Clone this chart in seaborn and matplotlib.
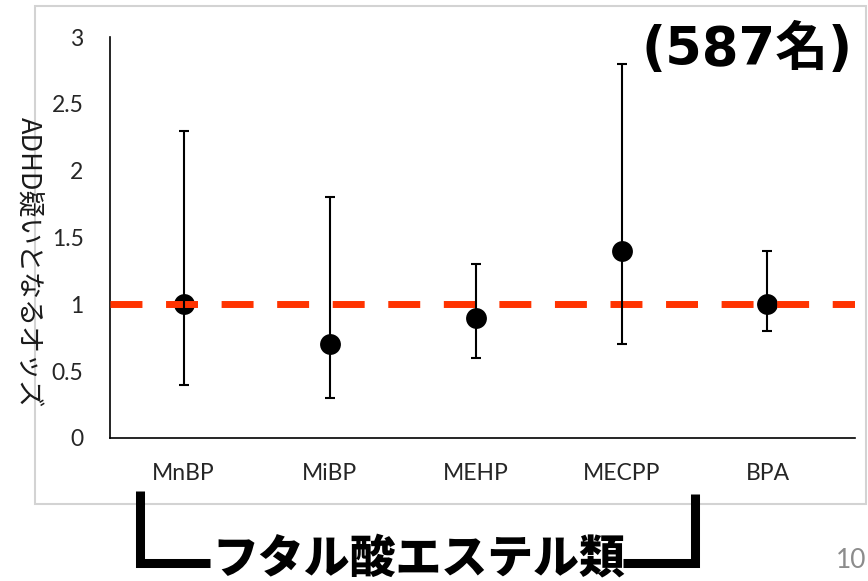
import matplotlib
matplotlib.use("Agg")
import matplotlib.pyplot as plt
from matplotlib.lines import Line2D
from matplotlib.patches import Rectangle
import numpy as np
import pandas as pd
import seaborn as sns

# Odds ratios with 95% confidence limits for each urinary metabolite
metabolites = ["MnBP", "MiBP", "MEHP", "MECPP", "BPA"]
odds_ratio = [1.0, 0.7, 0.9, 1.4, 1.0]
ci_low = [0.4, 0.3, 0.6, 0.7, 0.8]
ci_high = [2.3, 1.8, 1.3, 2.8, 1.4]
y_ticks = [0, 0.5, 1, 1.5, 2, 2.5, 3]
y_tick_labels = ["0", "0.5", "1", "1.5", "2", "2.5", "3"]
reference_or = 1.0

df = pd.DataFrame({"metabolite": metabolites, "or": odds_ratio,
                   "low": ci_low, "high": ci_high})

sns.set_theme(style="white")
plt.rcParams["font.family"] = ["Lato", "Noto Sans CJK JP", "DejaVu Sans"]

W, H = 868, 581
fig = plt.figure(figsize=(W / 100, H / 100), dpi=100)
fig.patch.set_facecolor("white")


def fx(px):
    return px / W


def fy(py):
    return 1 - py / H


ax = fig.add_axes([fx(110), fy(438), fx(855) - fx(110), fy(37) - fy(438)])
ax.set_facecolor("white")

# points
sns.scatterplot(data=df, x="metabolite", y="or", ax=ax, s=15 ** 2,
                color="black", edgecolor="black", linewidth=0, zorder=2,
                legend=False)

# reference line at OR = 1
ax.axhline(reference_or, color="#FF3300", lw=5, linestyle=(0, (4.6, 3.4)),
           zorder=3)

# confidence intervals
yerr = np.array([df["or"] - df["low"], df["high"] - df["or"]])
ax.errorbar(df["metabolite"], df["or"], yerr=yerr, fmt="none",
            ecolor="black", elinewidth=1.5, capsize=3.8, capthick=1.5,
            zorder=4)

ax.set_xlim(-0.505, len(metabolites) - 0.4)
ax.set_ylim(0, 3)
ax.set_yticks(y_ticks)
ax.set_yticklabels(y_tick_labels)
ax.tick_params(axis="both", length=0, labelsize=16.5, colors="#262626")
ax.tick_params(axis="y", pad=19)
ax.tick_params(axis="x", pad=18)
ax.set_xlabel("")
for side in ["top", "right"]:
    ax.spines[side].set_visible(False)
for side in ["left", "bottom"]:
    ax.spines[side].set_color("black")
    ax.spines[side].set_linewidth(1.2)

ax.set_ylabel("ADHD疑いとなるオッズ", family=["Noto Sans CJK JP"],
              fontsize=19.5, rotation=-90, va="center", ha="center",
              color="#1a1a1a")
ax.yaxis.set_label_coords((28 - 110) / 745, (438 - 262) / 401)

# frame around the chart area
fig.add_artist(Rectangle((fx(35), fy(504)), fx(866) - fx(35), fy(6) - fy(504),
                         transform=fig.transFigure, fill=False,
                         edgecolor="#d3d3d3", lw=1.5, zorder=0))

# sample size
fig.text(fx(747), fy(50), "(587名)", family=["DejaVu Sans", "Noto Sans CJK JP"],
         weight="bold", fontsize=38, ha="center", va="center", color="black")

# bracket grouping the phthalate metabolites
bracket_kw = dict(color="black", lw=6.5, solid_capstyle="butt",
                  solid_joinstyle="miter", transform=fig.transFigure)
fig.add_artist(Line2D([fx(139.5), fx(139.5), fx(210)],
                      [fy(491), fy(563), fy(563)], **bracket_kw))
fig.add_artist(Line2D([fx(623), fx(694.5), fx(694.5)],
                      [fy(563), fy(563), fy(494)], **bracket_kw))
fig.text(fx(419), fy(559), "フタル酸エステル類", family=["Noto Sans CJK JP"],
         weight="heavy", fontsize=33, ha="center", va="center", color="black")

# slide number
fig.text(fx(866), fy(561), "10", fontsize=19, color="#8c8c8c",
         ha="right", va="center")

fig.savefig("out.png", dpi=100, facecolor="white")
